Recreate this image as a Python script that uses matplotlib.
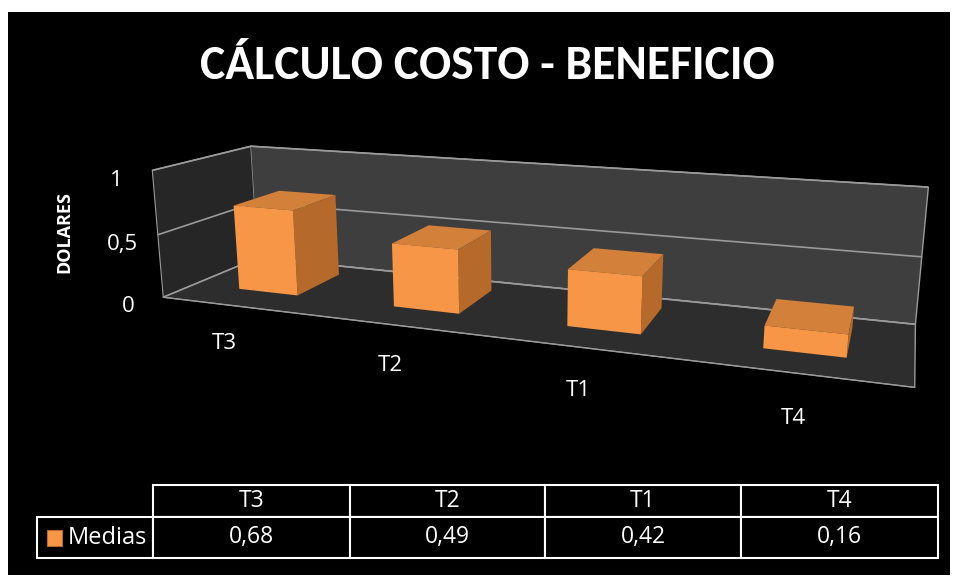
import numpy as np
import matplotlib
matplotlib.use("Agg")
import matplotlib.pyplot as plt
from matplotlib.patches import Rectangle

# ── Data ────────────────────────────────────────────────────────────────────
categories = ["T3", "T2", "T1", "T4"]
medias = [0.68, 0.49, 0.42, 0.16]
value_labels = ["0,68", "0,49", "0,42", "0,16"]
z_ticks = [0, 0.5, 1]
z_tick_labels = ["0", "0,5", "1"]

ORANGE_FRONT = "#F79646"
ORANGE_SIDE = "#B56A2C"
ORANGE_TOP = "#D2803A"
NONE = (0, 0, 0, 0)
GRID = "#9a9a9a"

plt.rcParams["font.family"] = ["Open Sans", "DejaVu Sans"]

fig = plt.figure(figsize=(9.56, 5.81), dpi=100, facecolor="white")
# black chart area inside thin white border
fig.add_artist(Rectangle((8 / 956, 6 / 581), 942 / 956, 563 / 581,
                         transform=fig.transFigure, facecolor="black",
                         edgecolor="none", zorder=-10))

title = fig.text(0.51, 0.886, "CÁLCULO COSTO - BENEFICIO", color="white",
                 fontsize=36, fontweight="bold", ha="center", va="center",
                 family=["Carlito", "Roboto Condensed", "Liberation Sans Narrow",
                         "Roboto"])
# fit the title to the width it has in the original (~575 px)
w = title.get_window_extent(renderer=fig.canvas.get_renderer()).width
title.set_fontsize(36 * 575 / w)

# ── 3D bars ─────────────────────────────────────────────────────────────────
ax = fig.add_axes([0.042, 0.208, 1.0, 0.72], projection="3d")
ax.set_facecolor("none")
ax.patch.set_alpha(0)

n = len(categories)
x = np.arange(n)
bw, bd = 0.39, 0.5
cols = []
for _ in range(n):
    # -z, +z, -y (front), +y, -x, +x (right side); hidden faces transparent
    cols += [NONE, ORANGE_TOP, ORANGE_FRONT, NONE, NONE, ORANGE_SIDE]
bars = ax.bar3d(x - bw / 2, np.full(n, 0.56 - bd / 2), np.zeros(n), bw, bd,
                medias, color=cols, shade=False, edgecolor="none")
bars.set_clip_on(False)   # 3D axes clip to a square box otherwise

ax.set_xlim(-0.5, n - 0.5)
ax.set_ylim(0, 1)
ax.set_zlim(0, 1)
ax.set_box_aspect((6.825, 1.6, 1.24), zoom=1.81)
ax.view_init(elev=14, azim=-70)
ax.set_proj_type("persp", focal_length=0.466)

# panes
ax.xaxis.set_pane_color("#262626")
ax.yaxis.set_pane_color("#3e3e3e")
ax.zaxis.set_pane_color("#2d2d2d")
for a in (ax.xaxis, ax.yaxis, ax.zaxis):
    a.pane.set_edgecolor(GRID)
    a._axinfo["tick"]["inward_factor"] = 0
    a._axinfo["tick"]["outward_factor"] = 0
ax.grid(True)
ax.xaxis._axinfo["grid"]["color"] = NONE
ax.yaxis._axinfo["grid"]["color"] = NONE
ax.zaxis._axinfo["grid"]["color"] = GRID
ax.zaxis._axinfo["grid"]["linewidth"] = 1.2

ax.xaxis.line.set_color(GRID)
ax.zaxis.line.set_color(GRID)
ax.yaxis.line.set_color(NONE)

ax.set_xticks(x)
ax.set_xticklabels(categories)
ax.set_yticks([])
ax.set_zticks(z_ticks)
ax.set_zticklabels(z_tick_labels)
ax.zaxis.set_ticks_position("lower")
ax.zaxis.set_label_position("lower")
ax.tick_params(colors="white", labelsize=16)
ax.tick_params(axis="x", pad=16)
ax.tick_params(axis="z", pad=0)
ax.zaxis.set_rotate_label(False)
ax.set_zlabel("DOLARES", color="white", fontsize=13, fontweight="bold",
              rotation=90, labelpad=0)

# ── Data table ──────────────────────────────────────────────────────────────
tax = fig.add_axes([37 / 956, 1 - 558 / 581, 901 / 956, 73 / 581])
tax.axis("off")
widths = np.array([116, 197, 195, 196, 197]) / 901
tbl = tax.table(cellText=[["Medias"] + value_labels],
                colLabels=[""] + categories,
                colWidths=widths, cellLoc="center", bbox=[0, 0, 1, 1])
tbl.auto_set_font_size(False)
for (r, c), cell in tbl.get_celld().items():
    cell.set_facecolor("black")
    cell.set_edgecolor("white")
    cell.set_linewidth(1.5)
    cell.set_height(32 if r == 0 else 41)
    cell.get_text().set_color("white")
    cell.get_text().set_fontsize(16.5)
tbl[0, 0].visible_edges = "open"
tbl[1, 0].get_text().set_horizontalalignment("right")
tbl[1, 0].PAD = 0.05
tbl[1, 0].get_text().set_fontsize(17)

# legend key in the row label
fig.add_artist(Rectangle((47 / 956, 1 - 546 / 581), 15 / 956, 16 / 581,
                         transform=fig.transFigure, facecolor=ORANGE_FRONT,
                         edgecolor="#B56A2C", linewidth=0.8))

fig.savefig("out.png", dpi=100, facecolor="white")
